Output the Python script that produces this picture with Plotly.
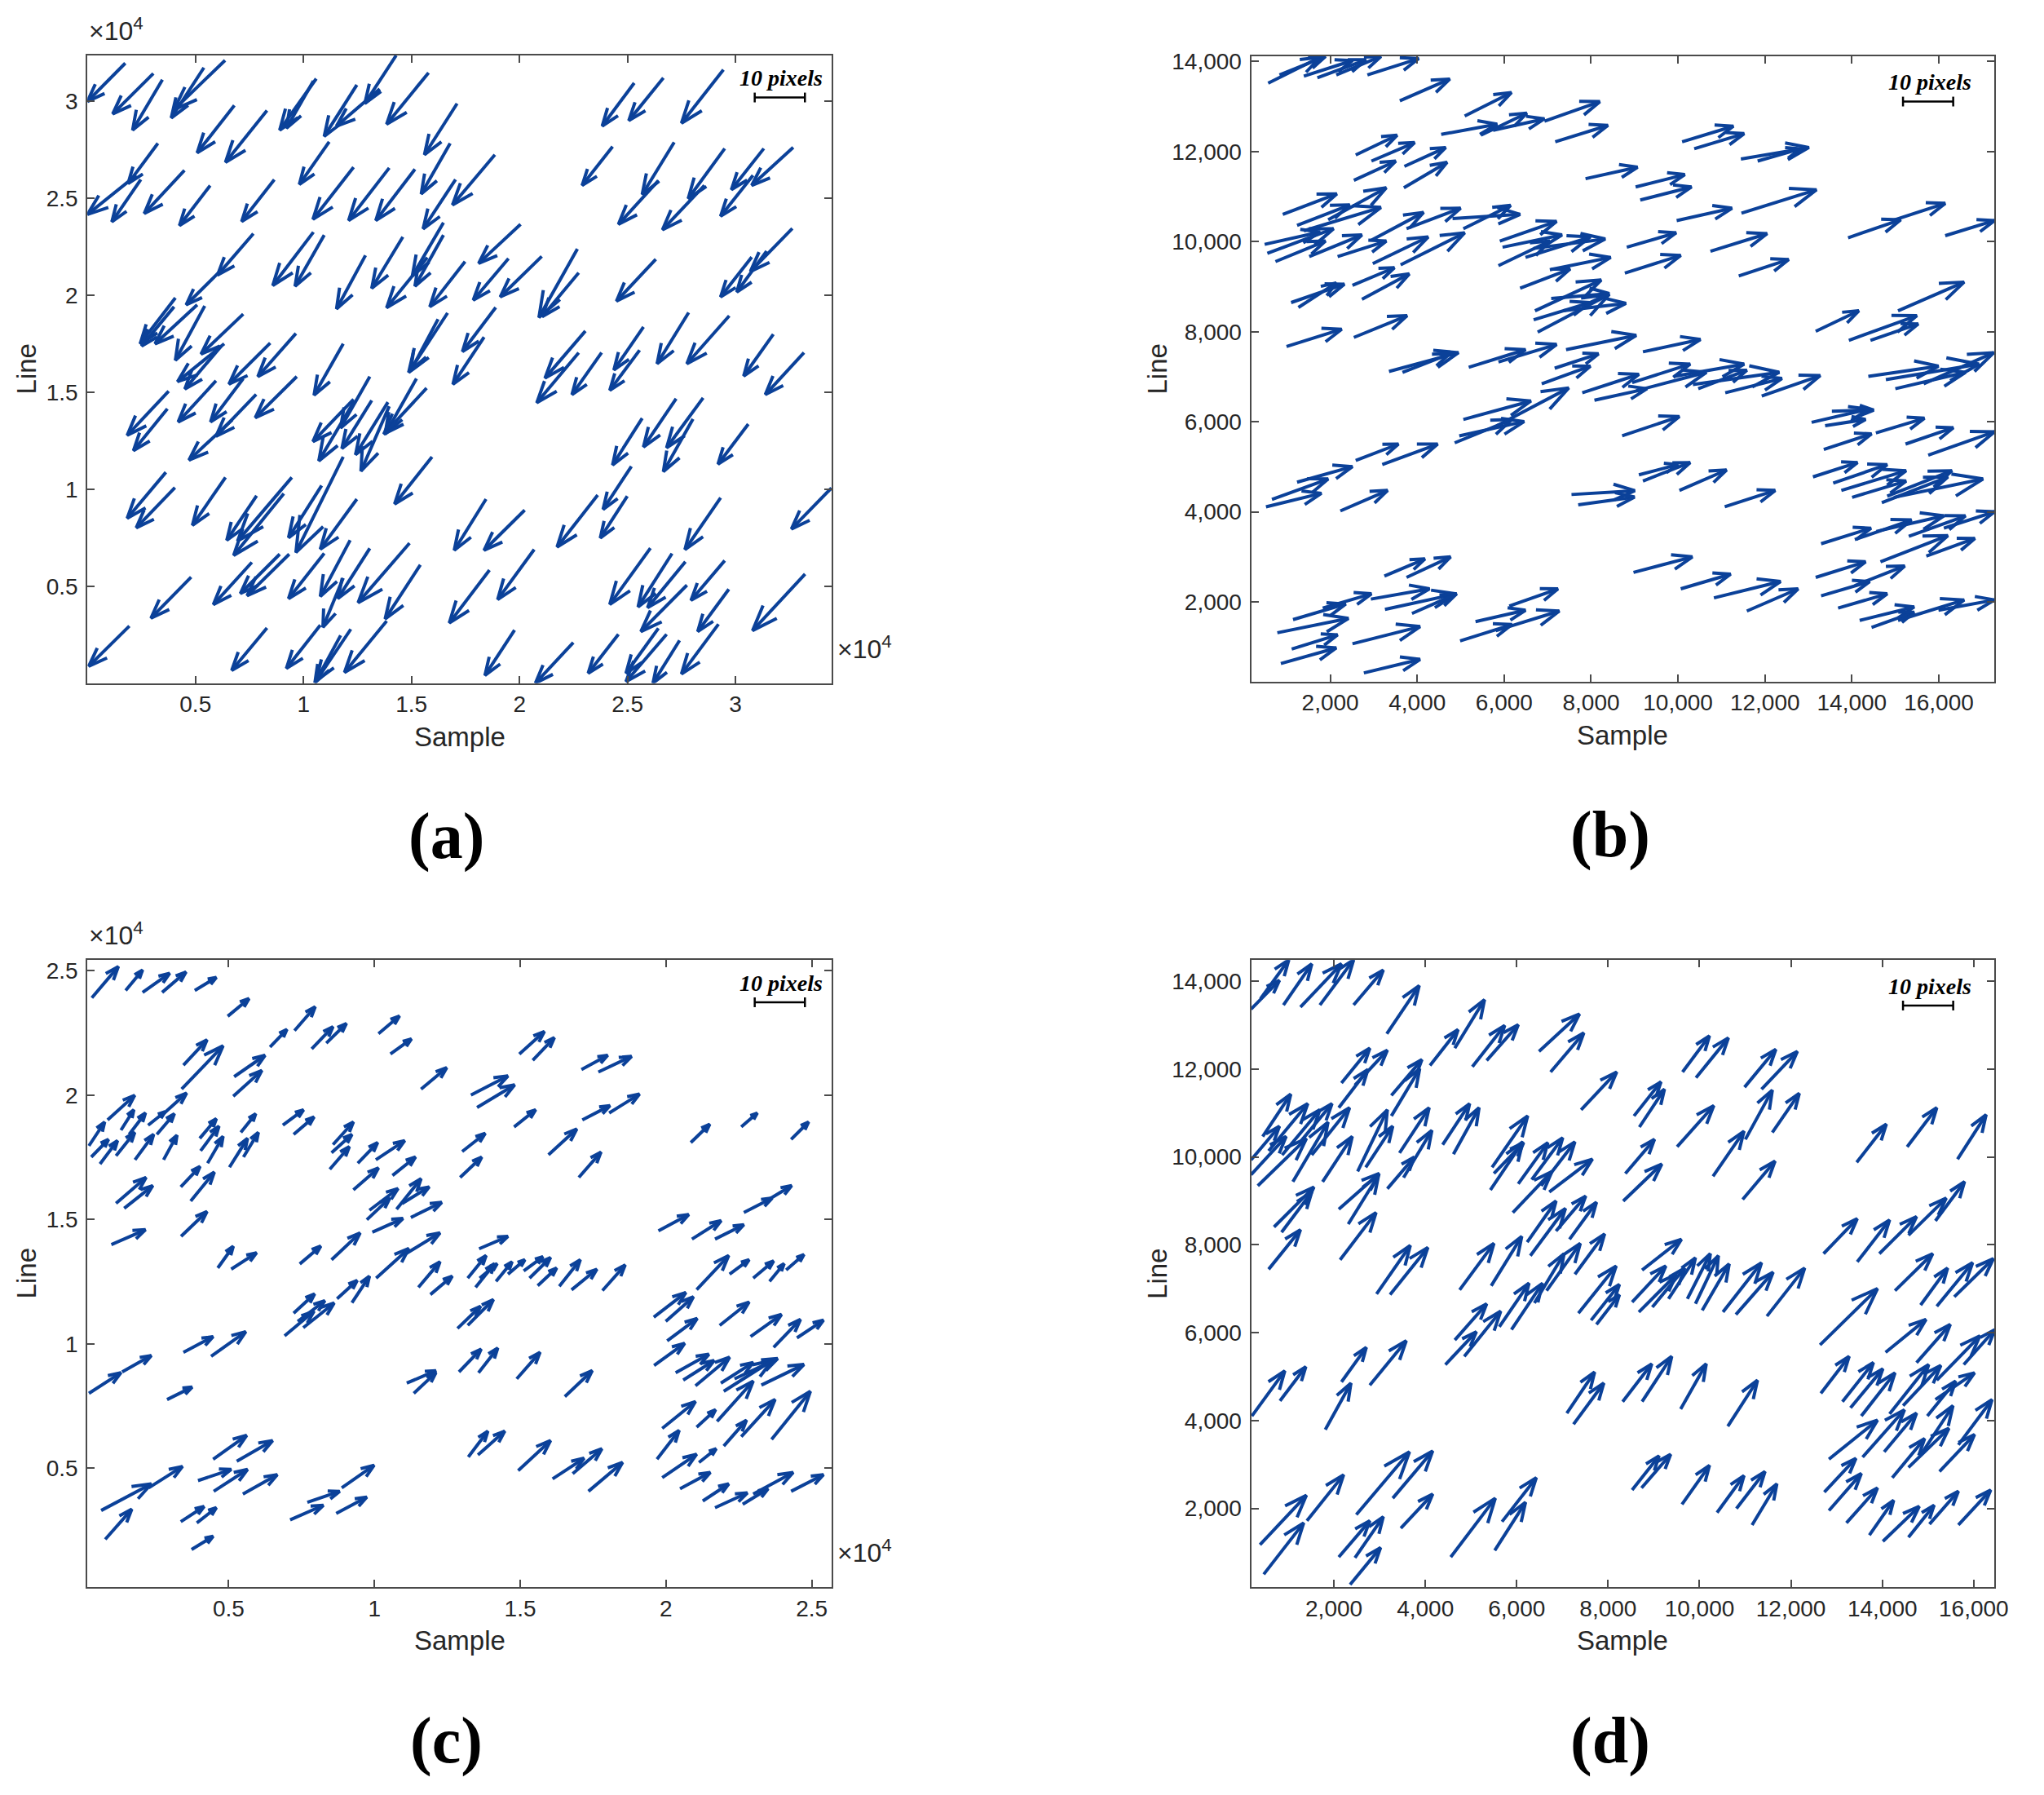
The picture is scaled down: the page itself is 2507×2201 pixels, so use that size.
import plotly.graph_objects as go

W, H = 2507, 2201
ARROW = "#0b4199"
INK = "#262626"
EDGE = "#4a4a4a"
SANS = "Liberation Sans, Arial, sans-serif"
SERIF = "Liberation Serif, Times New Roman, serif"

# ---------------- panel (a): values in units of 1e4 ----------------
a_x0 = [0.175, 0.305, 0.347, 0.539, 0.637, 0.680, 0.831, 1.059, 1.046, 1.247,
        1.429, 1.353, 1.579, 1.711, 1.119, 0.326, 0.226, 0.247, 0.449, 0.568,
        0.865, 1.232, 1.397, 1.516, 1.679, 1.704, 1.886, 0.768, 0.620, 1.046,
        1.096, 1.287, 1.460, 1.648, 1.648, 1.573, 1.748, 0.407, 0.401, 0.508,
        0.543, 0.721, 0.633, 0.620, 0.846, 0.965, 1.184, 1.667, 1.623, 1.890,
        1.836, 0.376, 0.370, 0.595, 0.721, 0.781, 0.670, 0.969, 1.232, 1.307,
        1.234, 1.316, 1.391, 1.397, 1.523, 1.570, 0.363, 0.405, 0.639, 0.783,
        0.946, 0.909, 1.084, 1.184, 1.247, 1.595, 1.845, 0.480, 0.761, 0.890,
        0.934, 1.096, 1.216, 1.307, 1.491, 1.541, 1.861, 0.194, 0.831, 1.078,
        1.219, 1.172, 1.385, 1.184,
        2.531, 2.666, 2.944, 2.431, 2.716, 2.643, 2.950, 2.856, 3.131, 3.267,
        3.081, 2.005, 1.949, 2.103, 2.268, 2.274, 2.631, 3.263, 3.075, 3.144,
        2.305, 2.274, 2.380, 2.574, 2.556, 2.783, 2.971, 3.175, 3.317, 2.568,
        2.725, 2.850, 2.803, 3.059, 2.518, 2.499, 2.362, 2.024, 2.931, 3.444,
        2.068, 2.606, 2.706, 2.768, 2.775, 2.950, 2.969, 3.322, 1.977, 2.249,
        2.458, 2.681, 2.643, 2.741, 2.921]
a_y0 = [3.197, 3.144, 3.112, 3.174, 3.212, 2.979, 2.953, 3.117, 3.106, 3.085,
        3.237, 3.064, 3.148, 2.989, 2.792, 2.784, 2.619, 2.597, 2.644, 2.566,
        2.597, 2.661, 2.657, 2.650, 2.784, 2.597, 2.725, 2.318, 2.131, 2.326,
        2.311, 2.206, 2.301, 2.375, 2.311, 2.195, 2.174, 1.987, 1.941, 1.951,
        1.945, 1.903, 1.750, 1.739, 1.754, 1.803, 1.750, 1.909, 1.877, 1.937,
        1.784, 1.506, 1.415, 1.559, 1.570, 1.489, 1.358, 1.581, 1.464, 1.581,
        1.453, 1.458, 1.449, 1.428, 1.570, 1.521, 1.087, 1.008, 1.061, 0.966,
        1.061, 0.977, 1.019, 1.167, 0.949, 1.167, 0.949, 0.547, 0.623, 0.665,
        0.665, 0.669, 0.737, 0.695, 0.722, 0.610, 0.583, 0.294, 0.284, 0.299,
        0.278, 0.246, 0.320, 0.542,
        3.095, 3.121, 3.163, 2.767, 2.789, 2.592, 2.757, 2.567, 2.757, 2.763,
        2.619, 2.366, 2.190, 2.201, 2.239, 2.116, 2.186, 2.345, 2.197, 2.228,
        1.816, 1.704, 1.704, 1.837, 1.717, 1.911, 1.894, 1.799, 1.704, 1.366,
        1.467, 1.471, 1.362, 1.336, 1.118, 0.964, 0.970, 0.892, 0.956, 1.006,
        0.689, 0.696, 0.668, 0.626, 0.505, 0.632, 0.484, 0.562, 0.273, 0.209,
        0.252, 0.252, 0.283, 0.220, 0.304]
a_x1 = [0.0, 0.117, 0.209, 0.388, 0.401, 0.508, 0.639, 0.890, 0.921, 1.096,
        1.284, 1.153, 1.385, 1.560, 0.981, 0.188, 0.0, 0.113, 0.263, 0.426,
        0.714, 1.044, 1.209, 1.335, 1.545, 1.554, 1.690, 0.602, 0.457, 0.858,
        0.961, 1.153, 1.316, 1.504, 1.516, 1.385, 1.585, 0.244, 0.251, 0.313,
        0.407, 0.526, 0.417, 0.451, 0.655, 0.789, 1.049, 1.487, 1.497, 1.736,
        1.692, 0.184, 0.213, 0.420, 0.570, 0.595, 0.470, 0.777, 1.044, 1.172,
        1.071, 1.178, 1.241, 1.266, 1.378, 1.372, 0.184, 0.226, 0.486, 0.645,
        0.695, 0.677, 0.931, 0.965, 1.078, 1.422, 1.698, 0.294, 0.583, 0.708,
        0.739, 0.931, 1.078, 1.159, 1.253, 1.378, 1.675, 0.006, 0.668, 0.921,
        1.059, 1.053, 1.190, 1.090,
        2.383, 2.506, 2.750, 2.290, 2.568, 2.458, 2.781, 2.662, 2.981, 3.075,
        2.931, 1.811, 1.786, 1.911, 2.090, 2.105, 2.449, 3.069, 2.931, 3.006,
        2.118, 2.080, 2.243, 2.437, 2.418, 2.637, 2.775, 3.038, 3.138, 2.431,
        2.574, 2.681, 2.666, 2.919, 2.387, 2.374, 2.174, 1.836, 2.766, 3.259,
        1.899, 2.418, 2.549, 2.593, 2.562, 2.794, 2.825, 3.079, 1.840, 2.074,
        2.318, 2.493, 2.493, 2.618, 2.750]
a_y1 = [3.0, 2.936, 2.852, 2.915, 2.958, 2.735, 2.686, 2.852, 2.862, 2.820,
        2.989, 2.873, 2.883, 2.725, 2.572, 2.576, 2.417, 2.379, 2.422, 2.360,
        2.381, 2.392, 2.386, 2.386, 2.523, 2.343, 2.466, 2.104, 1.951, 2.051,
        2.047, 1.930, 2.036, 2.100, 2.047, 1.936, 1.941, 1.750, 1.739, 1.750,
        1.665, 1.697, 1.555, 1.517, 1.542, 1.581, 1.485, 1.602, 1.612, 1.710,
        1.541, 1.278, 1.199, 1.347, 1.347, 1.273, 1.150, 1.369, 1.246, 1.316,
        1.146, 1.210, 1.178, 1.093, 1.284, 1.284, 0.850, 0.801, 0.814, 0.737,
        0.733, 0.659, 0.750, 0.674, 0.691, 0.924, 0.685, 0.335, 0.405, 0.462,
        0.451, 0.436, 0.447, 0.436, 0.415, 0.331, 0.310, 0.087, 0.066, 0.076,
        0.013, 0.002, 0.055, 0.288,
        2.873, 2.901, 2.888, 2.567, 2.520, 2.366, 2.499, 2.338, 2.545, 2.567,
        2.408, 2.165, 1.975, 1.992, 1.886, 1.890, 1.970, 2.123, 1.992, 2.017,
        1.573, 1.446, 1.488, 1.615, 1.510, 1.647, 1.647, 1.584, 1.488, 1.125,
        1.218, 1.214, 1.091, 1.129, 0.896, 0.748, 0.702, 0.685, 0.689, 0.795,
        0.431, 0.406, 0.393, 0.389, 0.266, 0.427, 0.266, 0.271, 0.040, 0.0,
        0.051, 0.008, 0.051, 0.0, 0.047]

# ---------------- panel (b) ----------------
b_x0 = [570, 831, 1391, 1702, 2137, 2853, 3599, 5092, 4551, 5465,
        5745, 6927, 7175, 2585, 2946, 2542, 3705, 3692, 7872, 906,
        1235, 1951, 1391, 489, 551, 738, 1515, 2168, 2946, 2977,
        3618, 3754, 5061, 4812, 5900, 5963, 5869, 6491, 6678, 6367,
        7051, 1098, 1266, 2510, 2728, 6709, 6678, 6771, 7082, 7362,
        993, 2542, 3350, 3661, 5185, 5869, 7424, 7163, 6864, 7797,
        8077, 5061, 4967, 4862, 5838, 1235, 657, 520, 2585, 3195,
        2231, 7549, 7704, 3244, 3754, 1142, 1826, 2933, 3257, 781,
        1111, 2510, 862, 2772, 3879, 4986, 5341, 6118, 5807,
        10094, 10373, 11447, 11832, 9025, 9131, 9969, 11460, 13913, 14937,
        16148, 8821, 10746, 8777, 11398, 13168, 13931, 14428, 15062, 9193,
        8945, 9038, 9907, 10466, 10342, 11087, 11926, 14379, 14782, 15000,
        15652, 13540, 13074, 13385, 8715, 13354, 14552, 15235, 15757, 9193,
        9100, 10032, 11075, 13105, 13571, 13758, 14006, 14689, 14813, 14968,
        13292, 14068, 14565, 15310, 16117, 14658, 15713, 8976, 10063, 10826,
        11584, 13168, 13292, 14068, 13683, 14180, 14453, 15062, 15993]
b_y0 = [13517, 13699, 13672, 13635, 13699, 13699, 13126, 12789, 12379, 12361,
        12470, 12670, 12215, 11924, 11787, 11359, 11669, 11195, 11396, 10604,
        10358, 10485, 10239, 9939, 9739, 9556, 9666, 9666, 10030, 9511,
        9483, 10285, 10285, 10513, 10012, 9875, 9465, 9648, 9848, 8965,
        9374, 8646, 8537, 9028, 8719, 8464, 8264, 7990, 8737, 8464,
        7671, 7872, 7116, 7098, 7208, 7326, 7600, 7189, 6843, 6643,
        6479, 6051, 5687, 5532, 5914, 4658, 4276, 4112, 5141, 5050,
        4021, 4385, 4157, 2573, 2545, 1608, 1863, 2063, 1836, 1316,
        953, 1071, 634, 424, 1744, 1134, 1563, 1908, 1362,
        12215, 12060, 11833, 11787, 11213, 10922, 10467, 10631, 10085, 10467,
        10130, 9875, 9784, 9301, 9238, 8009, 7808, 7808, 8464, 7553,
        6870, 6688, 7007, 6734, 6825, 6643, 6570, 7007, 6934, 6734,
        6843, 6233, 5987, 5914, 5687, 5386, 5751, 5505, 5259, 4685,
        4822, 4476, 4112, 4776, 4640, 4476, 4322, 4203, 4349, 4322,
        3292, 3383, 3565, 3456, 3638, 2892, 3019, 2655, 2291, 2090,
        1799, 2545, 2136, 2363, 1863, 1590, 1435, 1590, 1817]
b_x1 = [1764, 1888, 2510, 2821, 3164, 4034, 4750, 6168, 5838, 6522,
        6927, 8202, 8388, 3537, 3941, 3506, 4656, 4687, 9069, 2150,
        2448, 3288, 3164, 1764, 2075, 1888, 2728, 3288, 4146, 4252,
        5092, 4998, 6149, 6367, 7206, 7331, 7051, 7984, 8326, 7518,
        8451, 2324, 2137, 3475, 3817, 8233, 7984, 8419, 8419, 8802,
        2262, 3767, 4949, 4750, 6491, 7206, 9038, 8171, 7984, 9100,
        9286, 6616, 6460, 6180, 7486, 2510, 1951, 1795, 3568, 4470,
        3319, 9007, 9000, 4177, 4768, 2355, 2946, 4283, 4905, 2417,
        2168, 4065, 2137, 4065, 4905, 6180, 6491, 7238, 7269,
        11274, 11522, 13012, 12826, 10156, 10311, 11242, 13186, 15124, 16148,
        17284, 9957, 12050, 10063, 12547, 14161, 15496, 15527, 16583, 10516,
        10280, 10653, 11522, 11584, 12329, 12391, 13273, 15993, 16925, 16614,
        17266, 14503, 14379, 14316, 10032, 14453, 15670, 16335, 17284, 10280,
        10000, 11118, 12236, 14130, 14813, 15248, 15248, 16210, 16304, 17018,
        14441, 15372, 16117, 16614, 17284, 16210, 16831, 10330, 11211, 12360,
        12764, 14316, 14410, 15217, 14813, 15434, 15434, 16583, 17284]
b_y1 = [14091, 14110, 14018, 14036, 14110, 14063, 13608, 13308, 12607, 12852,
        12725, 13107, 12579, 12361, 12197, 11787, 12088, 11760, 11651, 11059,
        10813, 11195, 10758, 10212, 10285, 10012, 10148, 10012, 10649, 10103,
        10194, 10740, 10804, 10604, 10449, 10148, 10012, 10103, 10057, 9392,
        9648, 9055, 9083, 9420, 9283, 9147, 8646, 8828, 8846, 8628,
        8054, 8355, 7535, 7508, 7600, 7717, 7918, 7508, 7235, 7053,
        6734, 6461, 6005, 6051, 6752, 5004, 4731, 4412, 5505, 5505,
        4476, 4470, 4330, 2955, 3001, 1954, 2181, 2291, 2181, 1635,
        1271, 1453, 980, 725, 2181, 1499, 1817, 2291, 1799,
        12561, 12397, 12088, 12060, 11487, 11213, 10740, 11150, 10485, 10849,
        10467, 10194, 10176, 9693, 9602, 8464, 8355, 8172, 9101, 7826,
        7280, 7098, 7280, 7144, 7098, 6961, 7025, 7235, 7280, 7098,
        7535, 6260, 6279, 6051, 6115, 5732, 6078, 5869, 5778, 5095,
        5050, 4931, 4476, 5095, 5050, 4913, 4685, 4776, 4913, 4731,
        3638, 3820, 3911, 3911, 4003, 3474, 3411, 3001, 2618, 2454,
        2291, 2892, 2454, 2800, 2181, 1890, 1772, 2045, 2045]

# ---------------- panel (c): values in units of 1e4 ----------------
c_x0 = [0.031, 0.147, 0.205, 0.272, 0.384, 0.497, 0.642, 0.726, 0.785, 0.835,
        1.014, 1.055, 1.160, 0.345, 0.339, 0.519, 0.516, 0.085, 0.131, 0.224,
        0.254, 0.268, 0.021, 0.029, 0.059, 0.114, 0.159, 0.179, 0.277, 0.401,
        0.404, 0.428, 0.542, 0.503, 0.551, 0.686, 0.723, 0.858, 0.853, 0.847,
        0.943, 1.005, 1.062, 0.928, 0.983, 0.974, 1.076, 1.125, 1.095, 0.993,
        0.336, 0.370, 0.114, 0.142, 0.337, 0.098, 0.463, 0.509, 0.744, 0.853,
        1.006, 1.109, 1.151, 1.192, 0.723, 0.692, 0.737, 0.756, 0.872, 0.923,
        0.345, 0.440, 0.021, 0.135, 0.289, 1.111, 1.135, 0.447, 0.528, 0.395,
        0.449, 0.549, 0.063, 0.226, 0.077, 0.336, 0.391, 0.373, 0.711, 0.770,
        0.888, 0.869, 1.497, 1.543, 1.710, 1.768, 1.331, 1.352, 1.479, 1.713,
        1.805, 1.301, 1.294, 1.597, 1.701, 2.085, 2.258, 2.429, 1.974, 2.089,
        2.168, 2.267, 2.336, 1.359, 1.320, 1.347, 1.361, 1.417, 1.458, 1.512,
        1.532, 1.560, 1.634, 1.676, 1.782, 1.285, 1.320, 1.290, 1.357, 1.488,
        1.653, 1.958, 1.999, 2.004, 2.105, 2.218, 2.299, 2.355, 2.412, 2.184,
        2.290, 2.369, 2.449, 1.959, 2.033, 2.059, 2.101, 2.188, 2.198, 2.235,
        2.327, 1.987, 2.105, 2.175, 2.198, 2.258, 2.362, 1.969, 1.987, 2.048,
        2.113, 2.126, 2.168, 2.263, 2.299, 2.429, 1.322, 1.355, 1.493, 1.611,
        1.680, 1.734]
c_y0 = [2.391, 2.421, 2.413, 2.413, 2.421, 2.317, 2.193, 2.259, 2.186, 2.209,
        2.247, 2.165, 2.024, 2.120, 2.024, 2.074, 1.995, 1.900, 1.859, 1.879,
        1.842, 1.916, 1.796, 1.751, 1.723, 1.756, 1.842, 1.740, 1.740, 1.826,
        1.776, 1.726, 1.850, 1.710, 1.751, 1.879, 1.842, 1.801, 1.768, 1.702,
        1.726, 1.740, 1.677, 1.619, 1.537, 1.499, 1.541, 1.508, 1.564, 1.449,
        1.631, 1.574, 1.565, 1.545, 1.432, 1.399, 1.305, 1.300, 1.321, 1.338,
        1.264, 1.363, 1.227, 1.198, 1.123, 1.032, 1.090, 1.065, 1.181, 1.165,
        0.966, 0.950, 0.801, 0.887, 0.776, 0.842, 0.801, 0.536, 0.528, 0.450,
        0.407, 0.396, 0.330, 0.421, 0.214, 0.285, 0.280, 0.173, 0.292, 0.363,
        0.421, 0.318, 2.165, 2.140, 2.103, 2.093, 2.000, 1.950, 1.872, 1.900,
        1.928, 1.773, 1.669, 1.760, 1.669, 1.809, 1.872, 1.822, 1.454, 1.421,
        1.421, 1.528, 1.569, 1.382, 1.264, 1.227, 1.264, 1.251, 1.280, 1.293,
        1.264, 1.234, 1.231, 1.217, 1.214, 1.062, 1.074, 0.887, 0.884, 0.859,
        0.788, 1.107, 1.090, 1.012, 1.218, 1.280, 1.264, 1.251, 1.297, 1.074,
        1.029, 0.986, 1.024, 0.913, 0.884, 0.854, 0.831, 0.842, 0.809, 0.859,
        0.834, 0.660, 0.665, 0.688, 0.589, 0.627, 0.616, 0.536, 0.462, 0.417,
        0.523, 0.368, 0.341, 0.355, 0.396, 0.407, 0.545, 0.553, 0.490, 0.457,
        0.478, 0.407]
c_x1 = [0.122, 0.205, 0.298, 0.354, 0.458, 0.570, 0.700, 0.797, 0.858, 0.904,
        1.086, 1.127, 1.248, 0.426, 0.481, 0.625, 0.614, 0.178, 0.175, 0.282,
        0.314, 0.356, 0.075, 0.088, 0.119, 0.178, 0.215, 0.243, 0.323, 0.458,
        0.467, 0.481, 0.593, 0.565, 0.602, 0.757, 0.793, 0.928, 0.923, 0.914,
        1.011, 1.104, 1.141, 1.014, 1.081, 1.053, 1.160, 1.231, 1.188, 1.098,
        0.402, 0.451, 0.217, 0.240, 0.426, 0.215, 0.516, 0.596, 0.816, 0.951,
        1.118, 1.225, 1.225, 1.267, 0.795, 0.793, 0.830, 0.862, 0.941, 0.983,
        0.447, 0.559, 0.131, 0.235, 0.375, 1.211, 1.211, 0.562, 0.651, 0.509,
        0.565, 0.667, 0.235, 0.342, 0.168, 0.416, 0.458, 0.447, 0.825, 0.881,
        0.999, 0.974, 1.583, 1.617, 1.800, 1.882, 1.458, 1.481, 1.553, 1.808,
        1.909, 1.380, 1.368, 1.694, 1.777, 2.150, 2.313, 2.489, 2.078, 2.189,
        2.267, 2.364, 2.431, 1.458, 1.383, 1.412, 1.421, 1.472, 1.516, 1.578,
        1.604, 1.625, 1.706, 1.763, 1.860, 1.364, 1.408, 1.366, 1.423, 1.568,
        1.747, 2.068, 2.094, 2.107, 2.215, 2.285, 2.369, 2.405, 2.473, 2.285,
        2.396, 2.461, 2.540, 2.064, 2.147, 2.165, 2.218, 2.299, 2.364, 2.383,
        2.473, 2.101, 2.170, 2.299, 2.276, 2.374, 2.495, 2.045, 2.105, 2.152,
        2.172, 2.215, 2.279, 2.350, 2.436, 2.540, 1.389, 1.447, 1.604, 1.719,
        1.780, 1.851]
c_y1 = [2.517, 2.503, 2.490, 2.495, 2.473, 2.388, 2.264, 2.355, 2.275, 2.288,
        2.318, 2.226, 2.110, 2.222, 2.198, 2.160, 2.099, 1.999, 1.941, 1.933,
        1.925, 2.008, 1.892, 1.822, 1.817, 1.850, 1.928, 1.842, 1.839, 1.905,
        1.875, 1.834, 1.925, 1.826, 1.850, 1.941, 1.912, 1.892, 1.842, 1.793,
        1.809, 1.817, 1.751, 1.707, 1.624, 1.586, 1.664, 1.569, 1.631, 1.504,
        1.713, 1.690, 1.669, 1.636, 1.532, 1.459, 1.392, 1.366, 1.393, 1.446,
        1.383, 1.446, 1.330, 1.272, 1.201, 1.131, 1.173, 1.164, 1.255, 1.272,
        1.029, 1.049, 0.884, 0.953, 0.826, 0.892, 0.884, 0.632, 0.611, 0.495,
        0.495, 0.474, 0.437, 0.507, 0.335, 0.346, 0.341, 0.226, 0.351, 0.407,
        0.512, 0.384, 2.256, 2.231, 2.160, 2.156, 2.077, 2.041, 1.941, 1.958,
        2.004, 1.846, 1.751, 1.864, 1.771, 1.883, 1.928, 1.892, 1.520, 1.495,
        1.479, 1.586, 1.636, 1.432, 1.355, 1.322, 1.322, 1.330, 1.338, 1.350,
        1.347, 1.305, 1.338, 1.300, 1.317, 1.151, 1.178, 0.979, 0.983, 0.966,
        0.892, 1.206, 1.189, 1.102, 1.355, 1.338, 1.333, 1.322, 1.359, 1.168,
        1.118, 1.098, 1.095, 1.002, 0.958, 0.933, 0.946, 0.925, 0.933, 0.941,
        0.917, 0.768, 0.735, 0.850, 0.693, 0.776, 0.809, 0.652, 0.556, 0.483,
        0.578, 0.437, 0.401, 0.417, 0.483, 0.474, 0.649, 0.649, 0.611, 0.540,
        0.578, 0.523]

# ---------------- panel (d) ----------------
d_x0 = [187, 393, 895, 1267, 1693, 2431, 3157, 4645, 4102, 5029,
        5342, 6487, 6741, 7409, 2165, 2460, 2106, 3257, 3257, 441,
        187, 187, 334, 571, 1102, 866, 1250, 1515, 1752, 2519,
        2696, 2106, 2313, 3169, 3523, 3435, 689, 854, 571, 2135,
        2933, 3228, 4379, 4615, 5460, 5501, 5424, 6033, 6328, 6535,
        5915, 6712, 6228, 6298, 6860, 7155, 7273, 7350, 7627, 7745,
        4751, 5442, 5885, 6387, 6653, 4645, 4438, 4852, 5619, 204,
        819, 2165, 2785, 1811, 7096, 7243, 382, 464, 1409, 2490,
        2106, 2460, 3287, 3464, 2354, 4556, 5519, 5678,
        9628, 9923, 10985, 11357, 8566, 8684, 9510, 10295, 11003, 11593,
        8377, 8330, 10944, 13439, 14543, 15646, 12714, 13451, 13935, 14572,
        15162, 8743, 8525, 8672, 8967, 9321, 9734, 9911, 10059, 10513,
        10796, 11475, 12637, 12655, 14071, 14749, 15782, 15192, 14277, 14838,
        15192, 15575, 13127, 13304, 13540, 14159, 14454, 14985, 15162, 12832,
        13569, 14041, 14218, 14572, 14838, 15251, 15664, 12731, 12832, 13215,
        13717, 14012, 14572, 15032, 15664, 8525, 8731, 9616, 10383, 10808,
        11150, 10619, 9587, 8743, 8318]
d_y0 = [13364, 13598, 13457, 13410, 13457, 13457, 12802, 12475, 12082, 12054,
        12194, 12400, 11932, 11072, 11680, 11633, 11119, 11399, 10932, 10464,
        9931, 9594, 9342, 10137, 9435, 10043, 10324, 10043, 9435, 9669,
        9763, 8808, 8471, 9276, 9529, 10090, 8406, 8284, 7443, 7658,
        6881, 6863, 10277, 10062, 9763, 9622, 9248, 9388, 9482, 9342,
        8733, 9201, 8060, 7752, 8312, 8125, 7330, 6442, 6283, 6189,
        6975, 7068, 6068, 6676, 6956, 5834, 5273, 5460, 6133, 4103,
        4449, 4880, 4805, 3795, 4169, 3916, 1176, 502, 1718, 1859,
        895, 876, 2233, 1550, 268, 895, 1044, 1699,
        11932, 11802, 11586, 11540, 10932, 10679, 10230, 9557, 10399, 10558,
        9622, 8995, 9033, 9875, 10230, 9950, 7798, 7611, 7798, 8219,
        8546, 7424, 6694, 6470, 6582, 6769, 6769, 6657, 6507, 6470,
        6414, 6376, 5722, 4618, 5553, 5319, 5273, 4917, 6956, 6629,
        6601, 6816, 4431, 4290, 4103, 4150, 4337, 4103, 4477, 3121,
        3168, 3289, 2700, 2934, 3215, 2841, 3448, 2373, 1952, 1671,
        1391, 1250, 1344, 1643, 1624, 2419, 2466, 2092, 1905, 1999,
        1624, 3869, 4262, 4431, 4431]
d_x1 = [807, 1013, 1515, 2165, 2431, 3080, 3866, 5295, 4716, 5737,
        6033, 7373, 7468, 8188, 2785, 3169, 2744, 3925, 3877, 1055,
        807, 954, 1397, 1427, 1870, 1693, 1958, 2342, 2401, 3169,
        3287, 2992, 2980, 3759, 4143, 4084, 1563, 1515, 1267, 2921,
        3671, 4055, 4970, 5176, 6240, 6151, 6133, 6682, 7007, 7273,
        6771, 7657, 6860, 7066, 7509, 7745, 7923, 8176, 8247, 8247,
        5501, 6110, 6564, 7037, 7391, 5342, 5117, 5649, 6269, 925,
        1385, 2708, 3582, 2372, 7704, 7905, 1397, 1338, 2212, 3653,
        2785, 3080, 4161, 4161, 3021, 5531, 6192, 6428,
        10218, 10631, 11669, 12141, 9156, 9233, 10312, 10973, 11593, 12183,
        9014, 9174, 11652, 14088, 15192, 16271, 13451, 14159, 14749, 15398,
        15799, 9604, 9262, 9498, 9675, 9911, 10236, 10413, 10649, 11357,
        11610, 12301, 13894, 13274, 14956, 15487, 16460, 16136, 15103, 15428,
        15976, 16431, 13805, 14012, 14277, 15015, 15280, 15605, 16018, 13894,
        14484, 14749, 14926, 15457, 15546, 16018, 16401, 13422, 13540, 13894,
        14248, 14808, 15133, 15664, 16372, 9115, 9368, 10218, 10973, 11433,
        11693, 11268, 10147, 9392, 8955]
d_y1 = [14018, 14486, 14393, 14393, 14486, 14252, 13897, 13579, 12896, 12990,
        13008, 13251, 12821, 11932, 12475, 12428, 11989, 12213, 12007, 11427,
        10698, 10464, 10417, 11212, 10791, 11072, 11212, 11119, 10464, 11072,
        10698, 9622, 9594, 9996, 10604, 11119, 9313, 9201, 8341, 8733,
        7985, 7939, 11212, 11119, 10932, 10324, 10342, 10324, 10436, 10342,
        9669, 9950, 8995, 8827, 9108, 8967, 8247, 7517, 7097, 6863,
        8032, 8191, 7125, 7798, 8032, 6657, 6021, 6489, 7125, 5132,
        5226, 5665, 5815, 4851, 5104, 4851, 2298, 1671, 2766, 3289,
        1718, 1812, 3308, 2326, 1110, 2233, 2139, 2700,
        12756, 12709, 12447, 12400, 11708, 11540, 11166, 10586, 11521, 11446,
        10399, 9837, 9903, 10745, 11119, 10960, 8593, 8565, 8640, 9061,
        9435, 8125, 7517, 7330, 7471, 7705, 7798, 7752, 7564, 7592,
        7377, 7471, 7003, 5460, 6301, 6189, 6068, 5927, 7798, 7471,
        7592, 7686, 5319, 5179, 5086, 5273, 5254, 4898, 5086, 4010,
        4244, 4169, 3589, 3823, 4337, 3682, 4477, 3140, 2794, 2466,
        2186, 2046, 2074, 2392, 2419, 3196, 3233, 2981, 2747, 2841,
        2560, 4917, 5291, 5460, 5291]

for grp in [(a_x0, a_y0, a_x1, a_y1), (b_x0, b_y0, b_x1, b_y1),
            (c_x0, c_y0, c_x1, c_y1), (d_x0, d_y0, d_x1, d_y1)]:
    assert len(set(len(g) for g in grp)) == 1, [len(g) for g in grp]

# panel boxes in page pixels: left, top, right, bottom
panels = [
    dict(key="a", box=(108, 59, 1027, 832), xr=[0, 3.445], yr=[0, 3.238],
         ticks=[0.5, 1, 1.5, 2, 2.5, 3], yticks=[0.5, 1, 1.5, 2, 2.5, 3], fmt=None,
         data=(a_x0, a_y0, a_x1, a_y1)),
    dict(key="b", box=(1545, 60, 2463, 830), xr=[178, 17282], yr=[235, 14118],
         ticks=list(range(2000, 17000, 2000)), yticks=list(range(2000, 15000, 2000)), fmt=",d",
         data=(b_x0, b_y0, b_x1, b_y1)),
    dict(key="c", box=(108, 1173, 1027, 1945), xr=[0.016, 2.568], yr=[0.022, 2.543],
         ticks=[0.5, 1, 1.5, 2, 2.5], yticks=[0.5, 1, 1.5, 2, 2.5], fmt=None,
         data=(c_x0, c_y0, c_x1, c_y1)),
    dict(key="d", box=(1545, 1173, 2463, 1945), xr=[188, 16455], yr=[211, 14480],
         ticks=list(range(2000, 17000, 2000)), yticks=list(range(2000, 15000, 2000)), fmt=",d",
         data=(d_x0, d_y0, d_x1, d_y1)),
]


def px(x):
    return x / W


def py(y):
    return 1 - y / H


def quiver(x0, y0, x1, y1, xr, yr, wpx, hpx, alpha=0.33, beta=0.37):
    # MATLAB style open arrow heads, worked out in screen space
    sx = wpx / (xr[1] - xr[0])
    sy = hpx / (yr[1] - yr[0])
    xs, ys = [], []
    for a, b, c, d in zip(x0, y0, x1, y1):
        du = (c - a) * sx
        dv = (d - b) * sy
        h1x = c - alpha * (du + beta * dv) / sx
        h1y = d - alpha * (dv - beta * du) / sy
        h2x = c - alpha * (du - beta * dv) / sx
        h2y = d - alpha * (dv + beta * du) / sy
        xs += [a, c, None, h1x, c, h2x, None]
        ys += [b, d, None, h1y, d, h2y, None]
    return xs, ys


fig = go.Figure()
layout = dict(width=W, height=H, margin=dict(l=0, r=0, t=0, b=0),
              paper_bgcolor="white", plot_bgcolor="white", showlegend=False)
annotations = []
shapes = []

for i, p in enumerate(panels, start=1):
    l, t, r, b = p["box"]
    xs, ys = quiver(*p["data"], p["xr"], p["yr"], r - l, b - t)
    sfx = "" if i == 1 else str(i)
    fig.add_trace(go.Scatter(x=xs, y=ys, mode="lines", xaxis="x" + sfx, yaxis="y" + sfx,
                             line=dict(color=ARROW, width=4), hoverinfo="skip"))
    common = dict(ticks="inside", ticklen=9, tickwidth=1.5, tickcolor=EDGE,
                  showline=True, linecolor=EDGE, linewidth=2, mirror="ticks",
                  showgrid=False, zeroline=False,
                  tickfont=dict(family=SANS, size=28, color=INK))
    layout["xaxis" + sfx] = dict(domain=[px(l), px(r)], range=p["xr"], tickvals=p["ticks"],
                                 tickformat=p["fmt"], anchor="y" + sfx, ticklabelstandoff=0,
                                 **common)
    layout["yaxis" + sfx] = dict(domain=[py(b), py(t)], range=p["yr"], tickvals=p["yticks"],
                                 tickformat=p["fmt"], anchor="x" + sfx, ticklabelstandoff=4,
                                 **common)

    cx = (l + r) / 2
    annotations.append(dict(x=px(cx), y=py(b + 66), text="Sample", showarrow=False,
                            xref="paper", yref="paper", xanchor="center", yanchor="middle",
                            font=dict(family=SANS, size=33, color=INK)))
    annotations.append(dict(x=px(l - 75 if i % 2 else l - 116), y=py((t + b) / 2), text="Line",
                            textangle=-90, showarrow=False, xref="paper", yref="paper",
                            xanchor="center", yanchor="middle",
                            font=dict(family=SANS, size=33, color=INK)))
    annotations.append(dict(x=px(cx - 16), y=py(b + 189), text="<b>(%s)</b>" % p["key"],
                            showarrow=False, xref="paper", yref="paper",
                            xanchor="center", yanchor="middle",
                            font=dict(family=SERIF, size=80, color="black")))

    # scale bar "10 pixels"
    bar_r = r - 33 if i % 2 else r - 51
    bar_l = bar_r - 62
    bar_y = t + 52 if i in (1, 3) else t + 56
    shapes.append(dict(type="line", xref="paper", yref="paper", x0=px(bar_l), x1=px(bar_r),
                       y0=py(bar_y), y1=py(bar_y), line=dict(color="black", width=2.5)))
    for xe in (bar_l, bar_r):
        shapes.append(dict(type="line", xref="paper", yref="paper", x0=px(xe), x1=px(xe),
                           y0=py(bar_y - 6), y1=py(bar_y + 6), line=dict(color="black", width=2.5)))
    annotations.append(dict(x=px(bar_l + 33), y=py(bar_y - 24), text="<b><i>10 pixels</i></b>",
                            showarrow=False, xref="paper", yref="paper",
                            xanchor="center", yanchor="middle",
                            font=dict(family=SERIF, size=28, color="black")))

    # exponent labels for the 1e4 scaled axes
    if p["key"] in ("a", "c"):
        annotations.append(dict(x=px(l), y=py(t - 10), text="\u00d710<sup>4</sup>",
                                showarrow=False, xref="paper", yref="paper",
                                xanchor="left", yanchor="bottom",
                                font=dict(family=SANS, size=32, color=INK)))
        annotations.append(dict(x=px(r + 5), y=py(b - 22), text="\u00d710<sup>4</sup>",
                                showarrow=False, xref="paper", yref="paper",
                                xanchor="left", yanchor="bottom",
                                font=dict(family=SANS, size=32, color=INK)))

layout["annotations"] = annotations
layout["shapes"] = shapes
fig.update_layout(**layout)
# the page body carries the browser's default 8px margin; drop it so the figure sits at the origin
fig.write_html("out.html", config={"displayModeBar": False},
               post_script="document.body.style.margin='0';")
